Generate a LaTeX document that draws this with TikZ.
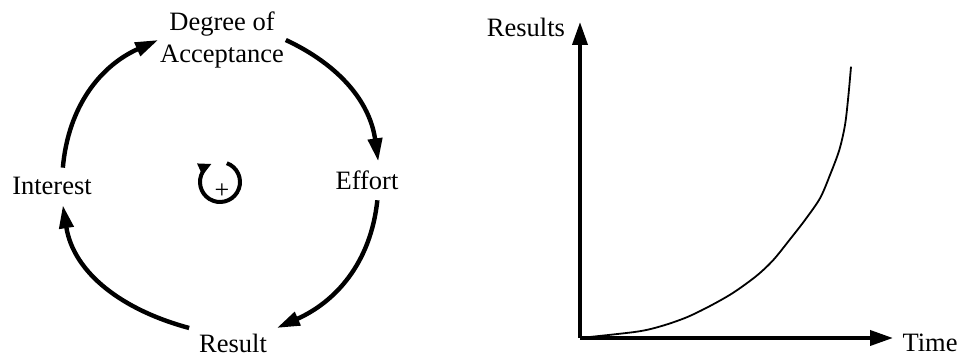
\documentclass[tikz,border=0pt]{standalone}
\usepackage{fontspec}
\setmainfont{Liberation Serif}
\usetikzlibrary{arrows.meta, positioning}

\begin{document}
\begin{tikzpicture}[
        x=1pt, y=1pt,
        lbl/.style={
            inner sep=2pt,
            outer sep=8pt,
            align=center,
            font=\fontsize{26.5}{32}\selectfont
        },
        arr/.style={
            line width=4.4pt,
            -{Triangle[length=23pt,width=14pt]}
        },
        axis/.style={
            line width=3.8pt,
            -{Triangle[length=23pt,width=15pt]}
        }
    ]
    \useasboundingbox (0,0) rectangle (961,358);

    % feedback loop
    \node[lbl, outer sep=0pt] (acc) at (222,318) {Degree of\\Acceptance};
    \node[lbl, anchor=base] (eff) at (367,168) {Effort};
    \node[lbl, anchor=base] (res) at (233,5) {Result};
    \node[lbl, anchor=base] (int) at (52,163) {Interest};

    \draw[arr] (acc.east) to[out=-25, in=98] (eff.60);
    \draw[arr] (eff.-62) to[out=-96, in=24] (res.20);
    \draw[arr] (res.160) to[out=165, in=-81] (int.-60);
    \draw[arr] (int.60) to[out=85, in=-156] (acc.west);

    % loop polarity
    \coordinate (ctr) at (220,176);
    \draw[line width=4pt, -{Triangle[length=13pt,width=12pt]}]
        ([shift=(70:20)]ctr) arc[start angle=70, end angle=-245, radius=20];
    \node[inner sep=0pt, font=\fontsize{26}{26}\selectfont] (sign) at (222,167) {+};

    % growth curve
    \coordinate (orig) at (580,20);
    \coordinate (ytop) at (580,336);
    \coordinate (xend) at (893,20);
    \draw[axis] (orig) -- (ytop);
    \draw[axis] (orig) -- (xend);
    \node[lbl, anchor=base] (ylab) at (526,321) {Results};
    \node[lbl, anchor=base] (xlab) at (930,6) {Time};

    \draw[line width=1.8pt] plot[smooth] coordinates {
        (580,20) (636.7,26.3) (661.7,32) (686.7,40.7) (710,52)
        (733.3,65.3) (756.7,82.3) (773.3,98) (790,118.7) (805,138)
        (820,159.7) (830,183) (839.3,208) (845,233) (848.3,261.3) (851,291.3)
    };
\end{tikzpicture}
\end{document}
